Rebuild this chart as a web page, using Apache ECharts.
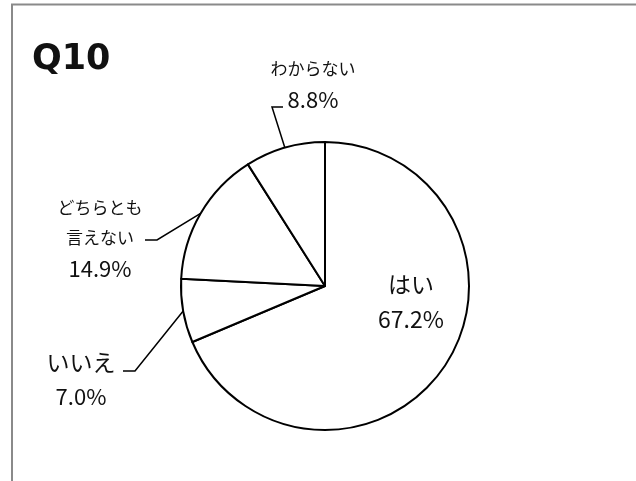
<!DOCTYPE html>
<html>
<head>
<meta charset="utf-8">
<script src="https://cdn.jsdelivr.net/npm/echarts@6/dist/echarts.min.js"></script>
<style>
  html, body { margin: 0; padding: 0; background: #fff; }
  #chart { width: 636px; height: 481px; }
</style>
</head>
<body>
<div id="chart"></div>
<script>
// Survey answers for question 10 (share of respondents, %)
const categories = ['はい', 'いいえ', 'どちらとも\n言えない', 'わからない'];
const shares = [67.2, 7.0, 14.9, 8.8];
const titleText = 'Q10';

const FONT = '"Noto Sans CJK JP", "Noto Sans", sans-serif';

// Label boxes: centre point, text sizes, and where each leader line meets the text
const labelPlacement = [
  { x: 411, y: 302, nameStyle: 'nb', valueStyle: 'vb', lead: null },
  { x: 81, y: 379, nameStyle: 'nb', valueStyle: 'v', lead: { endX: 123, elbowX: 135, y: 371 } },
  { x: 100, y: 239, nameStyle: 'ns', valueStyle: 'v', lead: { endX: 145, elbowX: 157, y: 240 } },
  { x: 313, y: 85, nameStyle: 'ns', valueStyle: 'v', lead: { endX: 283, elbowX: 272, y: 107 } }
];

const richStyles = {
  nb: { fontSize: 23, lineHeight: 35, color: '#111', fontFamily: FONT, align: 'center' },
  ns: { fontSize: 17, lineHeight: 30, color: '#111', fontFamily: FONT, align: 'center' },
  vb: { fontSize: 23, lineHeight: 36, color: '#111', fontFamily: FONT, align: 'center' },
  v: { fontSize: 22, lineHeight: 33, color: '#111', fontFamily: FONT, align: 'center' }
};

const pieData = categories.map((name, i) => {
  const spot = labelPlacement[i];
  const nameLines = name.split('\n').map(s => '{' + spot.nameStyle + '|' + s + '}');
  const text = nameLines.join('\n') + '\n{' + spot.valueStyle + '|' + shares[i].toFixed(1) + '%}';
  const item = {
    name: name,
    value: shares[i],
    label: { formatter: text }
  };
  if (!spot.lead) {
    item.label.position = 'inside';
    item.labelLine = { show: false };
  }
  return item;
});

const chart = echarts.init(document.getElementById('chart'), null, { renderer: 'canvas' });

chart.setOption({
  animation: false,
  backgroundColor: '#fff',
  title: {
    text: titleText,
    left: 27,
    top: 37,
    textStyle: {
      fontFamily: '"DejaVu Sans", sans-serif',
      fontWeight: 'bold',
      fontSize: 35,
      color: '#111'
    }
  },
  graphic: [{
    type: 'rect',
    silent: true,
    shape: { x: 12, y: 4.5, width: 700, height: 600 },
    style: { fill: null, stroke: '#8a8a8a', lineWidth: 2 }
  }],
  series: [{
    type: 'pie',
    center: [325, 286],
    radius: 144,
    startAngle: 90,
    clockwise: true,
    avoidLabelOverlap: false,
    itemStyle: { color: '#fff', borderColor: '#000', borderWidth: 2 },
    emphasis: { disabled: true },
    label: {
      show: true,
      position: 'outside',
      alignTo: 'none',
      color: '#111',
      fontFamily: FONT,
      rich: richStyles
    },
    labelLine: {
      show: true,
      length: 10,
      length2: 10,
      smooth: false,
      minTurnAngle: 0,
      lineStyle: { color: '#000', width: 1.5 }
    },
    labelLayout: function (params) {
      const spot = labelPlacement[params.dataIndex];
      const out = { x: spot.x, y: spot.y, align: 'center', verticalAlign: 'middle' };
      if (spot.lead && params.labelLinePoints) {
        const onArc = params.labelLinePoints[0];
        out.labelLinePoints = [
          [onArc[0], onArc[1]],
          [spot.lead.elbowX, spot.lead.y],
          [spot.lead.endX, spot.lead.y]
        ];
      }
      return out;
    },
    data: pieData
  }]
});
</script>
</body>
</html>
